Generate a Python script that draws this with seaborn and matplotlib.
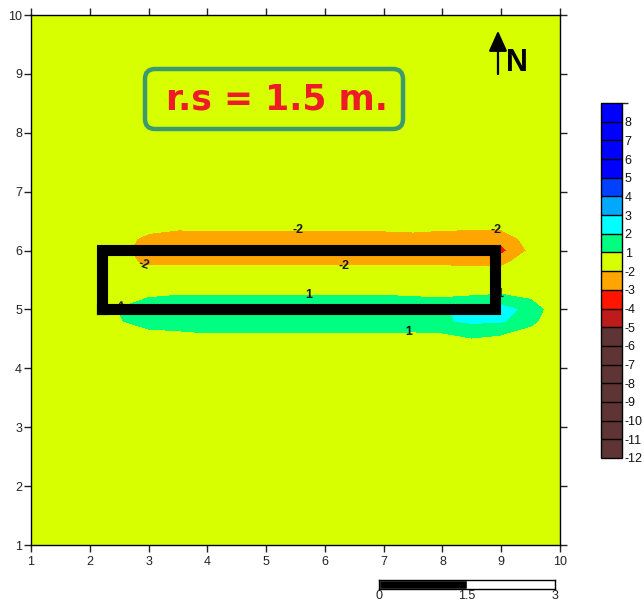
import numpy as np
import matplotlib
matplotlib.use("Agg")
import matplotlib.pyplot as plt
import seaborn as sns
from matplotlib.colors import ListedColormap, BoundaryNorm
from matplotlib.patches import FancyBboxPatch
from matplotlib.transforms import IdentityTransform

# ---------------- data ----------------
x_grid = [1.0, 2.0, 2.5, 3.0, 3.5, 4.0, 4.5, 5.0, 5.5, 6.0, 6.5, 7.0, 7.5, 8.0, 8.5, 9.0, 9.5, 10.0]
y_low = [1.0, 2.0, 3.0, 4.0]
y_band = [4.2, 4.4, 4.6, 4.8, 5.0, 5.2, 5.4, 5.6, 5.8, 6.0, 6.2, 6.4, 6.6, 6.8]
y_high = [7.0, 8.0, 9.0, 10.0]
background_value = 0.0

band_rows = [
    [0, 0, 0.05, 0.1, 0.15, 0.15, 0.15, 0.15, 0.15, 0.15, 0.15, 0.15, 0.15, 0.2, 0.25, 0.2, 0.1, 0],
    [0, 0, 0.2, 0.35, 0.4, 0.4, 0.4, 0.4, 0.4, 0.4, 0.4, 0.4, 0.45, 0.5, 0.6, 0.5, 0.3, 0],
    [0, 0, 0.5, 0.7, 0.8, 1.0, 1.0, 1.0, 1.0, 1.0, 1.0, 1.0, 0.9, 1.0, 1.3, 1.1, 0.6, 0],
    [0, 0.1, 0.9, 1.6, 1.85, 1.95, 1.95, 1.95, 1.95, 1.95, 1.95, 1.95, 1.95, 1.9, 2.15, 2.1, 1.3, 0.1],
    [0, 0.2, 1.05, 1.7, 1.9, 1.98, 1.98, 1.98, 1.98, 1.98, 1.98, 1.98, 1.98, 1.9, 2.3, 2.5, 1.6, 0.2],
    [0, 0.1, 0.6, 1.0, 1.15, 1.15, 1.15, 1.15, 1.15, 1.15, 1.15, 1.15, 1.05, 1.0, 1.1, 1.2, 0.9, 0.1],
    [0, 0, 0.2, 0.35, 0.4, 0.4, 0.4, 0.4, 0.4, 0.4, 0.4, 0.4, 0.4, 0.4, 0.45, 0.5, 0.3, 0],
    [0, 0, -0.6, -1.3, -1.5, -1.5, -1.5, -1.5, -1.5, -1.5, -1.5, -1.5, -1.5, -1.5, -1.5, -1.5, -0.8, 0],
    [0, -0.2, -1.5, -2.3, -2.2, -2.2, -2.2, -2.2, -2.2, -2.2, -2.2, -2.2, -2.2, -2.2, -2.3, -2.3, -1.3, -0.2],
    [0, -0.3, -1.5, -2.8, -3.4, -3.0, -2.9, -3.05, -3.1, -2.9, -2.8, -2.8, -2.8, -2.6, -3.2, -3.3, -1.8, -0.4],
    [0, -0.2, -1.4, -2.4, -2.6, -2.5, -2.5, -2.5, -2.5, -2.5, -2.5, -2.5, -2.4, -2.5, -2.7, -2.7, -1.5, -0.3],
    [0, 0, -0.6, -1.5, -1.8, -1.8, -1.8, -1.8, -1.8, -1.8, -1.8, -1.75, -1.7, -1.8, -1.8, -1.8, -1.0, -0.2],
    [0, 0, -0.3, -0.7, -0.9, -0.9, -0.9, -0.9, -0.9, -0.9, -0.9, -0.9, -0.9, -0.9, -0.9, -0.9, -0.4, 0],
    [0, 0, 0, -0.2, -0.3, -0.3, -0.3, -0.3, -0.3, -0.3, -0.3, -0.3, -0.3, -0.3, -0.3, -0.3, -0.1, 0],
]

levels = [-12, -11, -10, -9, -8, -7, -6, -5, -4, -3, -2, 1, 2, 3, 4, 5, 6, 7, 8, 9]
level_colors = ["#5E3434"] * 7 + ["#BE1B1B", "#FF1500", "#FFA500", "#D8FF00",
                                  "#00FF80", "#00FFFF", "#00A8FF", "#0040FF",
                                  "#0000FF", "#0000FF", "#0000FF", "#0000FF"]
cbar_ticks = [-12, -11, -10, -9, -8, -7, -6, -5, -4, -3, -2, 1, 2, 3, 4, 5, 6, 7, 8]

label_levels = [-2, 1]
label_points = [(5.54, 6.37), (2.92, 5.78), (6.32, 5.74), (8.91, 6.37),
                (5.73, 5.245), (7.43, 4.65), (2.55, 5.07), (8.98, 5.26)]

structure_x = [2.21, 8.9, 8.9, 2.21, 2.21]
structure_y = [5.0, 5.0, 6.01, 6.01, 5.0]

axis_ticks = [1, 2, 3, 4, 5, 6, 7, 8, 9, 10]
scale_ticks = [0, 1.5, 3]
scale_labels = ["0", "1.5", "3"]
title_text = "r.s = 1.5 m."
north_x = 8.945
north_y0, north_y1 = 8.95, 9.78

# ---------------- style ----------------
sns.set_theme(style="ticks")
plt.rcParams["font.family"] = ["Liberation Sans", "DejaVu Sans"]
plt.rcParams["axes.unicode_minus"] = False

fig = plt.figure(figsize=(6.44, 6.03), dpi=100)
ax = fig.add_axes([31 / 644, 1 - 545 / 603, 529 / 644, 530 / 603])

y_grid = y_low + y_band + y_high
Z = np.full((len(y_grid), len(x_grid)), background_value)
Z[len(y_low):len(y_low) + len(y_band), :] = np.array(band_rows)
X, Y = np.meshgrid(x_grid, y_grid)

cmap = ListedColormap(sns.color_palette(level_colors))
norm = BoundaryNorm(levels, cmap.N)
cf = ax.contourf(X, Y, Z, levels=levels, cmap=cmap, norm=norm)
cs = ax.contour(X, Y, Z, levels=label_levels, colors="k", linewidths=0)
lbls = ax.clabel(cs, label_levels, manual=label_points, inline=False, fmt="%d", fontsize=9)
for t in lbls:
    t.set_fontweight("bold")
    t.set_zorder(3)

ax.plot(structure_x, structure_y, color="black", lw=8, solid_joinstyle="miter",
        solid_capstyle="projecting", zorder=4)

ax.set_xlim(1, 10)
ax.set_ylim(1, 10)
ax.set_xticks(axis_ticks)
ax.set_yticks(axis_ticks)
ax.tick_params(direction="out", length=5, width=1, top=True, right=True,
               labeltop=False, labelright=False, labelsize=9, colors="#222222", pad=1.5)
ax.tick_params(axis="x", pad=3)
for s in ax.spines.values():
    s.set_linewidth(1)
    s.set_color("black")
ax.set_xlabel("")
ax.set_ylabel("")

# north arrow
ax.annotate("", xy=(north_x, north_y1), xytext=(north_x, north_y0),
            arrowprops=dict(arrowstyle="-|>,head_length=1.0,head_width=0.45",
                            mutation_scale=12.5, lw=1.6, color="black"), zorder=5)
ax.text(9.27, 9.18, "N", fontsize=22, fontweight="bold", ha="center", va="center",
        color="black", zorder=5)

# title box
box = FancyBboxPatch((145, 474), 258, 60, boxstyle="round,pad=0,rounding_size=10",
                     transform=IdentityTransform(), fc="#D8FF00", ec="#3A9B6C", lw=3.2,
                     zorder=6)
fig.add_artist(box)
fig.text(277 / 644, 1 - 99 / 603, title_text, fontsize=25, fontweight="bold",
         family=["DejaVu Sans"], color="#ED1C24", ha="center", va="center", zorder=7)

# colorbar
cax = fig.add_axes([601 / 644, 1 - 458 / 603, 21 / 644, 355 / 603])
cb = fig.colorbar(cf, cax=cax, ticks=cbar_ticks, drawedges=True)
cb.ax.tick_params(length=0, labelsize=9, pad=2, colors="#111111")
cb.outline.set_linewidth(1)
cb.outline.set_color("black")
cb.dividers.set_color("black")
cb.dividers.set_linewidth(1)

# scale bar
sax = fig.add_axes([379 / 644, 1 - 589 / 603, 176 / 644, 9 / 603])
sax.barh([0.5], [scale_ticks[1] - scale_ticks[0]], left=scale_ticks[0], height=1, color="black")
sax.barh([0.5], [scale_ticks[2] - scale_ticks[1]], left=scale_ticks[1], height=1,
         color="white", edgecolor="black", lw=0)
sax.set_xlim(scale_ticks[0], scale_ticks[-1])
sax.set_ylim(0, 1)
sax.set_xticks(scale_ticks)
sax.set_xticklabels(scale_labels)
sax.set_yticks([])
sax.tick_params(length=0, labelsize=9, pad=1, colors="#222222")
for s in sax.spines.values():
    s.set_linewidth(1)
    s.set_color("black")

fig.savefig("out.png", dpi=100)
